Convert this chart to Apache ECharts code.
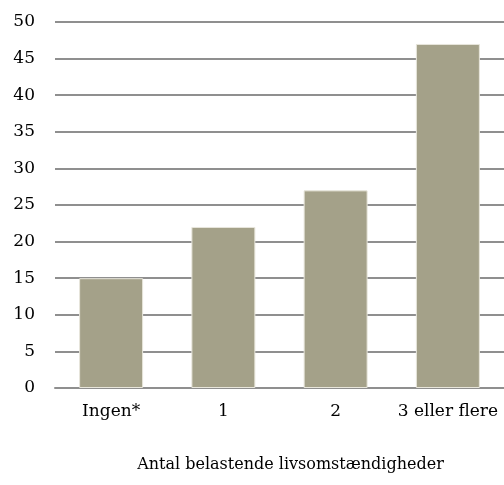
<!DOCTYPE html>
<html>
<head>
<meta charset="utf-8">
<script src="https://cdn.jsdelivr.net/npm/echarts@6/dist/echarts.min.js"></script>
<style>
  html, body { margin: 0; padding: 0; background: #fff; }
  #chart { width: 504px; height: 485px; }
</style>
</head>
<body>
<div id="chart"></div>
<script>
// Andel fordelt på antal belastende livsomstændigheder
const categories = ['Ingen*', '1', '2', '3 eller flere'];
const values = [15, 22, 27, 47];
const axisTitle = 'Antal belastende livsomstændigheder';

const font = 'DejaVu Serif';
const chart = echarts.init(document.getElementById('chart'), null, { renderer: 'canvas' });

chart.setOption({
  animation: false,
  grid: { left: 55, right: 0, top: 22, bottom: 97 },
  xAxis: {
    type: 'category',
    data: categories,
    name: axisTitle,
    nameLocation: 'middle',
    nameGap: 69,
    nameTextStyle: { fontFamily: font, fontSize: 16, color: '#000', padding: [0, 0, 0, 22] },
    axisTick: { show: false },
    axisLine: { show: true, lineStyle: { color: '#8f8f8f', width: 2 } },
    axisLabel: { fontFamily: font, fontSize: 17, color: '#000', margin: 15, interval: 0 }
  },
  yAxis: {
    type: 'value',
    min: 0,
    max: 50,
    interval: 5,
    axisLine: { show: false },
    axisTick: { show: false },
    axisLabel: { fontFamily: font, fontSize: 17, color: '#000', margin: 20 },
    splitLine: { show: true, lineStyle: { color: '#8f8f8f', width: 2 } }
  },
  series: [{
    type: 'bar',
    data: values,
    barWidth: '57%',
    itemStyle: { color: '#a4a189', borderColor: '#e8e6dc', borderWidth: 1 }
  }]
});
</script>
</body>
</html>
